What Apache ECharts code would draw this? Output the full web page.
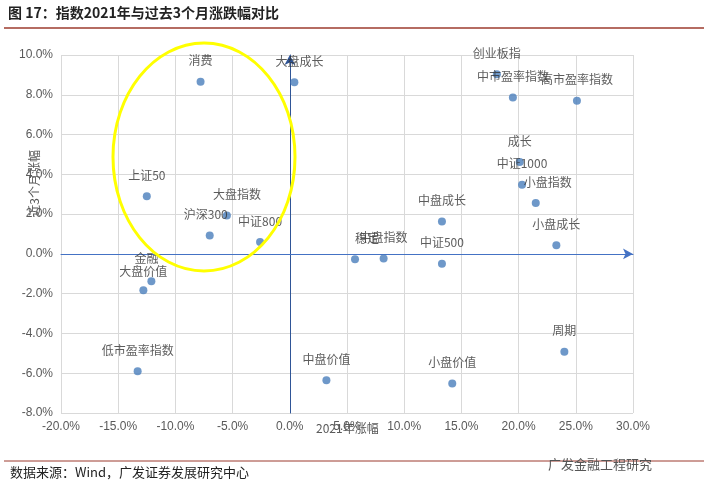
<!DOCTYPE html>
<html><head><meta charset="utf-8">
<script src="https://cdn.jsdelivr.net/npm/echarts@6/dist/echarts.min.js"></script>
<style>body{margin:0;background:#fff}#main{width:708px;height:498px}</style>
</head><body><div id="main"></div>
<script>
const names = ['消费', '大盘成长', '上证50', '大盘指数', '沪深300', '中证800', '金融', '大盘价值', '低市盈率指数', '中盘价值',
    '创业板指', '中市盈率指数', '高市盈率指数', '成长', '中证1000', '小盘指数', '中盘成长', '小盘成长', '稳定', '中盘指数', '中证500', '周期', '小盘价值'];
const ret2021 = [-7.8, 0.4, -12.5, -5.5, -7.0, -2.6, -12.1, -12.8, -13.3, 3.2,
    18.1, 19.5, 25.1, 20.1, 20.3, 21.5, 13.3, 23.3, 5.7, 8.2, 13.3, 24.0, 14.2];
const ret3m = [8.66, 8.63, 2.9, 1.93, 0.92, 0.6, -1.37, -1.83, -5.9, -6.35,
    9.03, 7.86, 7.7, 4.62, 3.48, 2.56, 1.63, 0.43, -0.27, -0.23, -0.5, -4.92, -6.52];
// label offsets [dx, dy] so overlapping labels sit roughly where the original put them
const labelOffsets = [[0, -6], [5, -6], [0, -6], [10, -6], [-4, -6], [0, -6], [-5, -8], [0, -4], [0, -6], [0, -6],
    [0, -6], [0, -6], [0, -6], [0, -6], [0, -6], [12, -6], [0, -6], [0, -6], [12, -6], [0, -6], [0, -6], [0, -6], [0, -6]];

const chartDom = document.getElementById('main');
const myChart = echarts.init(chartDom);

const points = names.map((n, i) => ({
    name: n,
    value: [ret2021[i], ret3m[i]],
    label: {offset: labelOffsets[i]}
}));

const axisLabelStyle = {color: '#595959', fontSize: 12, fontFamily: 'Arial, Liberation Sans', formatter: v => v.toFixed(1) + '%'};

const option = {
    backgroundColor: '#fff',
    textStyle: {fontFamily: '"Noto Sans CJK SC"'},
    graphic: [
        {type: 'text', left: 8, top: 6, style: {text: '图 17：指数2021年与过去3个月涨跌幅对比', fontSize: 14, fontWeight: 'bold', fill: '#222', fontFamily: '"Noto Sans CJK SC"'}},
        {type: 'line', shape: {x1: 4, y1: 28, x2: 704, y2: 28}, style: {stroke: '#9c3b2e', lineWidth: 1.5}},
        {type: 'line', shape: {x1: 4, y1: 461, x2: 704, y2: 461}, style: {stroke: '#9c3b2e', lineWidth: 1}},
        {type: 'text', left: 10, top: 466, style: {text: '数据来源：Wind，广发证券发展研究中心', fontSize: 13, fill: '#222', fontFamily: '"Noto Sans CJK SC"'}},
        {type: 'text', left: 548, top: 458, style: {text: '广发金融工程研究', fontSize: 13, fill: '#555', fontFamily: '"Noto Sans CJK SC"'}},
        {type: 'text', left: 316, top: 422, style: {text: '2021年涨幅', fontSize: 12, fill: '#595959', fontFamily: '"Noto Sans CJK SC"'}},
        {type: 'text', left: 28, top: 150, rotation: Math.PI / 2, style: {text: '近3个月涨幅', fontSize: 12, fill: '#595959', fontFamily: '"Noto Sans CJK SC"'}},
        {type: 'ellipse', shape: {cx: 204, cy: 157, rx: 91, ry: 114}, style: {fill: 'none', stroke: '#ffff00', lineWidth: 3}, z: 100}
    ],
    grid: {left: 61, right: 75, top: 55, bottom: 85, outerBoundsMode: 'none', containLabel: false},
    xAxis: {
        type: 'value', min: -20, max: 30, interval: 5,
        axisLine: {onZero: true, symbol: ['none', 'arrow'], symbolSize: [8, 10], lineStyle: {color: '#4472c4', width: 1}},
        axisTick: {show: false},
        axisLabel: axisLabelStyle,
        splitLine: {lineStyle: {color: '#d9d9d9'}}
    },
    yAxis: {
        type: 'value', min: -8, max: 10, interval: 2,
        axisLine: {onZero: true, symbol: ['none', 'arrow'], symbolSize: [8, 10], lineStyle: {color: '#2f5597', width: 1}},
        axisTick: {show: false},
        axisLabel: axisLabelStyle,
        splitLine: {lineStyle: {color: '#d9d9d9'}}
    },
    series: [{
        type: 'scatter',
        symbolSize: 8,
        itemStyle: {color: '#4a7ebb'},
        label: {show: true, position: 'top', formatter: p => p.name, color: '#333', fontSize: 12},
        data: points
    }]
};
option && myChart.setOption(option);
</script></body></html>
